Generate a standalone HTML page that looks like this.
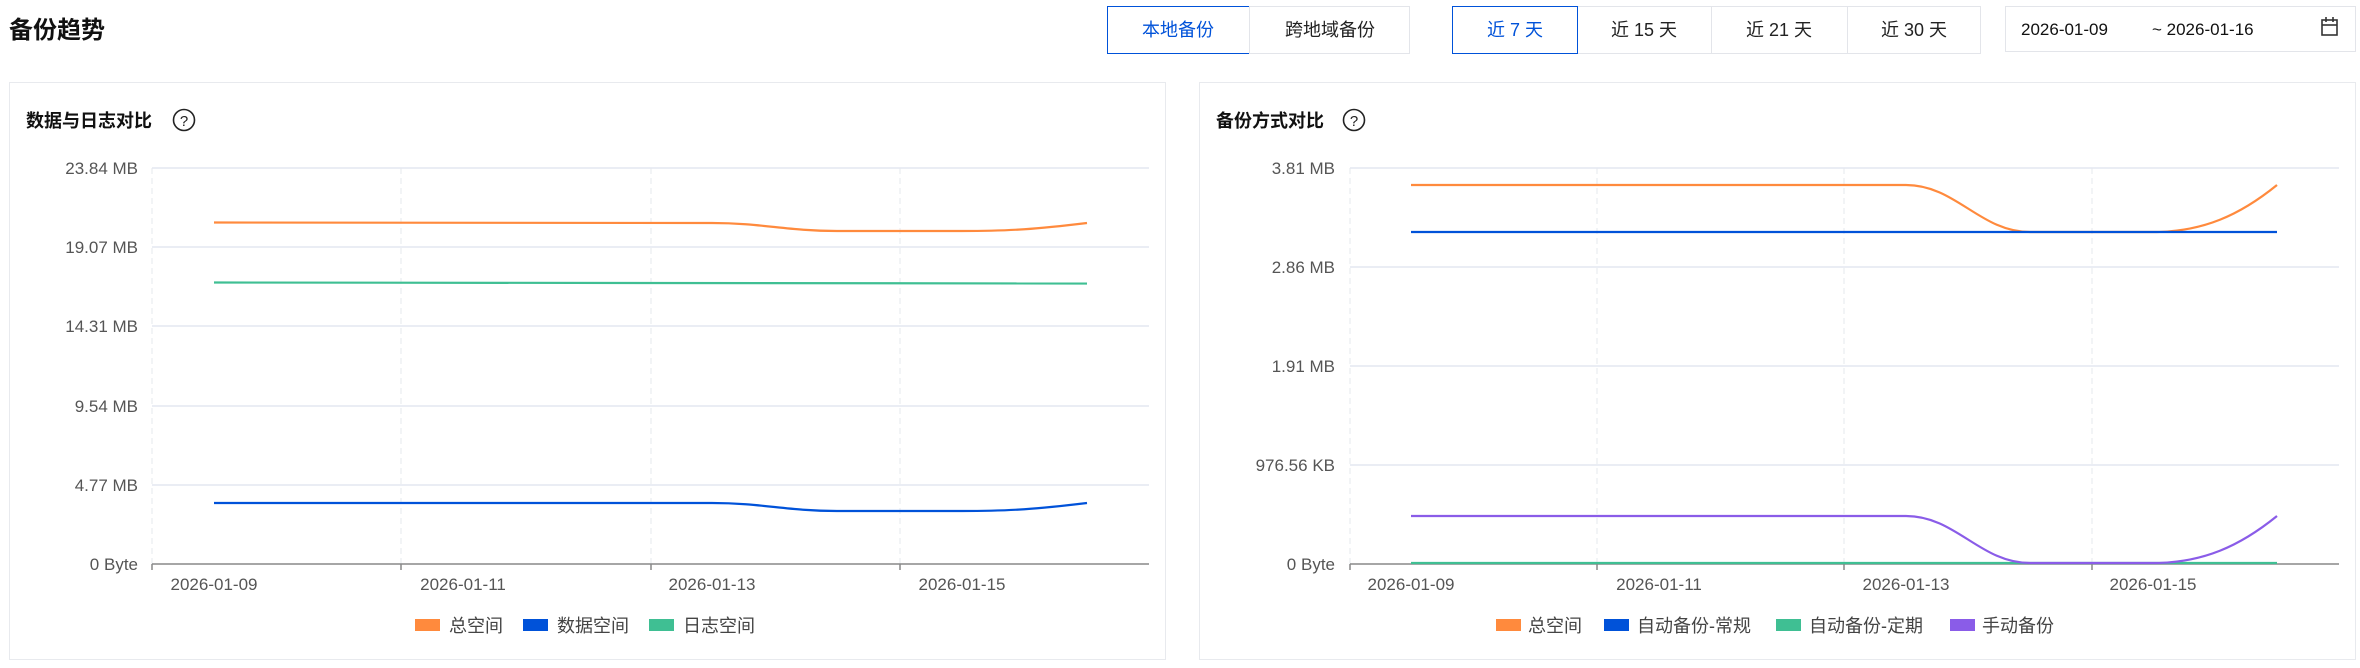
<!DOCTYPE html>
<html><head><meta charset="utf-8"><style>
body{margin:0;background:#fff;}
svg text{font-family:"Liberation Sans","Noto Sans CJK SC",sans-serif;}
</style></head><body>
<svg width="2360" height="663" viewBox="0 0 2360 663" xmlns="http://www.w3.org/2000/svg">
<text x="9" y="38" font-size="24" font-weight="bold" fill="#111">备份趋势</text>
<rect x="1107.5" y="6.5" width="142" height="47" fill="#fff" stroke="#0052d9"/>
<text x="1178" y="36" font-size="18" fill="#0052d9" text-anchor="middle">本地备份</text>
<rect x="1249.5" y="6.5" width="160" height="47" fill="#fff" stroke="#e3e5ea"/>
<text x="1330" y="36" font-size="18" fill="#222" text-anchor="middle">跨地域备份</text>
<rect x="1577.5" y="6.5" width="403" height="47" fill="#fff" stroke="#e3e5ea"/>
<line x1="1711.5" y1="7" x2="1711.5" y2="53" stroke="#e3e5ea"/>
<line x1="1847.5" y1="7" x2="1847.5" y2="53" stroke="#e3e5ea"/>
<rect x="1452.5" y="6.5" width="125" height="47" fill="#fff" stroke="#0052d9"/>
<text x="1515" y="36" font-size="18" fill="#0052d9" text-anchor="middle">近 7 天</text>
<text x="1644" y="36" font-size="18" fill="#222" text-anchor="middle">近 15 天</text>
<text x="1779" y="36" font-size="18" fill="#222" text-anchor="middle">近 21 天</text>
<text x="1914" y="36" font-size="18" fill="#222" text-anchor="middle">近 30 天</text>
<rect x="2005.5" y="6.5" width="350" height="45" fill="#fff" stroke="#e3e5ea"/>
<text x="2021" y="35" font-size="17" fill="#111">2026-01-09</text>
<text x="2152" y="35" font-size="17" fill="#111">~ 2026-01-16</text>
<g stroke="#333" stroke-width="1.6" fill="none"><rect x="2322" y="20" width="15" height="15"/><line x1="2322" y1="25" x2="2337" y2="25"/><line x1="2326" y1="17" x2="2326" y2="22"/><line x1="2333" y1="17" x2="2333" y2="22"/></g>

<rect x="9.5" y="82.5" width="1156" height="577" fill="#fff" stroke="#e8eaee"/>
<text x="26" y="127" font-size="18" font-weight="bold" fill="#111">数据与日志对比</text>
<circle cx="184" cy="120" r="10.5" fill="none" stroke="#222" stroke-width="1.6"/>
<text x="184" y="126" font-size="15" fill="#222" text-anchor="middle">?</text>
<g stroke="#e4e7f0" stroke-width="1.5">
<line x1="152" y1="168" x2="1149" y2="168"/><line x1="152" y1="247" x2="1149" y2="247"/><line x1="152" y1="326" x2="1149" y2="326"/><line x1="152" y1="406" x2="1149" y2="406"/><line x1="152" y1="485" x2="1149" y2="485"/></g>
<g stroke="#e6e8ee" stroke-dasharray="6,4">
<line x1="152" y1="168" x2="152" y2="564"/><line x1="401" y1="168" x2="401" y2="564"/><line x1="651" y1="168" x2="651" y2="564"/><line x1="900" y1="168" x2="900" y2="564"/></g>
<line x1="152" y1="564" x2="1149" y2="564" stroke="#888" stroke-width="1.5"/>
<g stroke="#888" stroke-width="1.5"><line x1="152" y1="564" x2="152" y2="570"/><line x1="401" y1="564" x2="401" y2="570"/><line x1="651" y1="564" x2="651" y2="570"/><line x1="900" y1="564" x2="900" y2="570"/></g>
<g font-size="17" fill="#555" text-anchor="end">
<text x="138" y="174">23.84 MB</text><text x="138" y="253">19.07 MB</text><text x="138" y="332">14.31 MB</text><text x="138" y="412">9.54 MB</text><text x="138" y="491">4.77 MB</text><text x="138" y="570">0 Byte</text></g>
<g font-size="17" fill="#555" text-anchor="middle">
<text x="214" y="590">2026-01-09</text><text x="463" y="590">2026-01-11</text><text x="712" y="590">2026-01-13</text><text x="962" y="590">2026-01-15</text></g>
<g fill="none" stroke-width="2.2">
<path d="M214 222.5 L712 223 C762 223 787 231 837 231 L962 231 C1012 231 1037 229 1087 223" stroke="#ff8a3d"/>
<path d="M214 282.5 L1087 283.5" stroke="#3fbf93"/>
<path d="M214 503 L712 503 C762 503 787 511 837 511 L962 511 C1012 511 1037 509 1087 503" stroke="#0052d9"/>
</g>
<rect x="415" y="619" width="25" height="12" fill="#ff8a3d"/><text x="449" y="632" font-size="18" fill="#444">总空间</text>
<rect x="523" y="619" width="25" height="12" fill="#0052d9"/><text x="557" y="632" font-size="18" fill="#444">数据空间</text>
<rect x="649" y="619" width="25" height="12" fill="#3fbf93"/><text x="683" y="632" font-size="18" fill="#444">日志空间</text>

<rect x="1199.5" y="82.5" width="1156" height="577" fill="#fff" stroke="#e8eaee"/>
<text x="1216" y="127" font-size="18" font-weight="bold" fill="#111">备份方式对比</text>
<circle cx="1354" cy="120" r="10.5" fill="none" stroke="#222" stroke-width="1.6"/>
<text x="1354" y="126" font-size="15" fill="#222" text-anchor="middle">?</text>
<g stroke="#e4e7f0" stroke-width="1.5">
<line x1="1350" y1="168" x2="2339" y2="168"/><line x1="1350" y1="267" x2="2339" y2="267"/><line x1="1350" y1="366" x2="2339" y2="366"/><line x1="1350" y1="465" x2="2339" y2="465"/></g>
<g stroke="#e6e8ee" stroke-dasharray="6,4">
<line x1="1350" y1="168" x2="1350" y2="564"/><line x1="1597" y1="168" x2="1597" y2="564"/><line x1="1844" y1="168" x2="1844" y2="564"/><line x1="2092" y1="168" x2="2092" y2="564"/></g>
<line x1="1350" y1="564" x2="2339" y2="564" stroke="#888" stroke-width="1.5"/>
<g stroke="#888" stroke-width="1.5"><line x1="1350" y1="564" x2="1350" y2="570"/><line x1="1597" y1="564" x2="1597" y2="570"/><line x1="1844" y1="564" x2="1844" y2="570"/><line x1="2092" y1="564" x2="2092" y2="570"/></g>
<g font-size="17" fill="#555" text-anchor="end">
<text x="1335" y="174">3.81 MB</text><text x="1335" y="273">2.86 MB</text><text x="1335" y="372">1.91 MB</text><text x="1335" y="471">976.56 KB</text><text x="1335" y="570">0 Byte</text></g>
<g font-size="17" fill="#555" text-anchor="middle">
<text x="1411" y="590">2026-01-09</text><text x="1659" y="590">2026-01-11</text><text x="1906" y="590">2026-01-13</text><text x="2153" y="590">2026-01-15</text></g>
<g fill="none" stroke-width="2.2">
<path d="M1411 185 L1906 185 C1956 185 1980 232 2030 232 L2153 232 C2203 232 2240 215 2277 185" stroke="#ff8a3d"/>
<path d="M1411 232 L2277 232" stroke="#0052d9"/>
<path d="M1411 563 L2277 563" stroke="#3fbf93"/>
<path d="M1411 516 L1906 516 C1956 516 1980 563 2030 563 L2153 563 C2203 563 2240 546 2277 516" stroke="#8a5ce8"/>
</g>
<rect x="1496" y="619" width="25" height="12" fill="#ff8a3d"/><text x="1528" y="632" font-size="18" fill="#444">总空间</text>
<rect x="1604" y="619" width="25" height="12" fill="#0052d9"/><text x="1637" y="632" font-size="18" fill="#444">自动备份-常规</text>
<rect x="1776" y="619" width="25" height="12" fill="#3fbf93"/><text x="1809" y="632" font-size="18" fill="#444">自动备份-定期</text>
<rect x="1950" y="619" width="25" height="12" fill="#8a5ce8"/><text x="1982" y="632" font-size="18" fill="#444">手动备份</text>
</svg>
</body></html>
